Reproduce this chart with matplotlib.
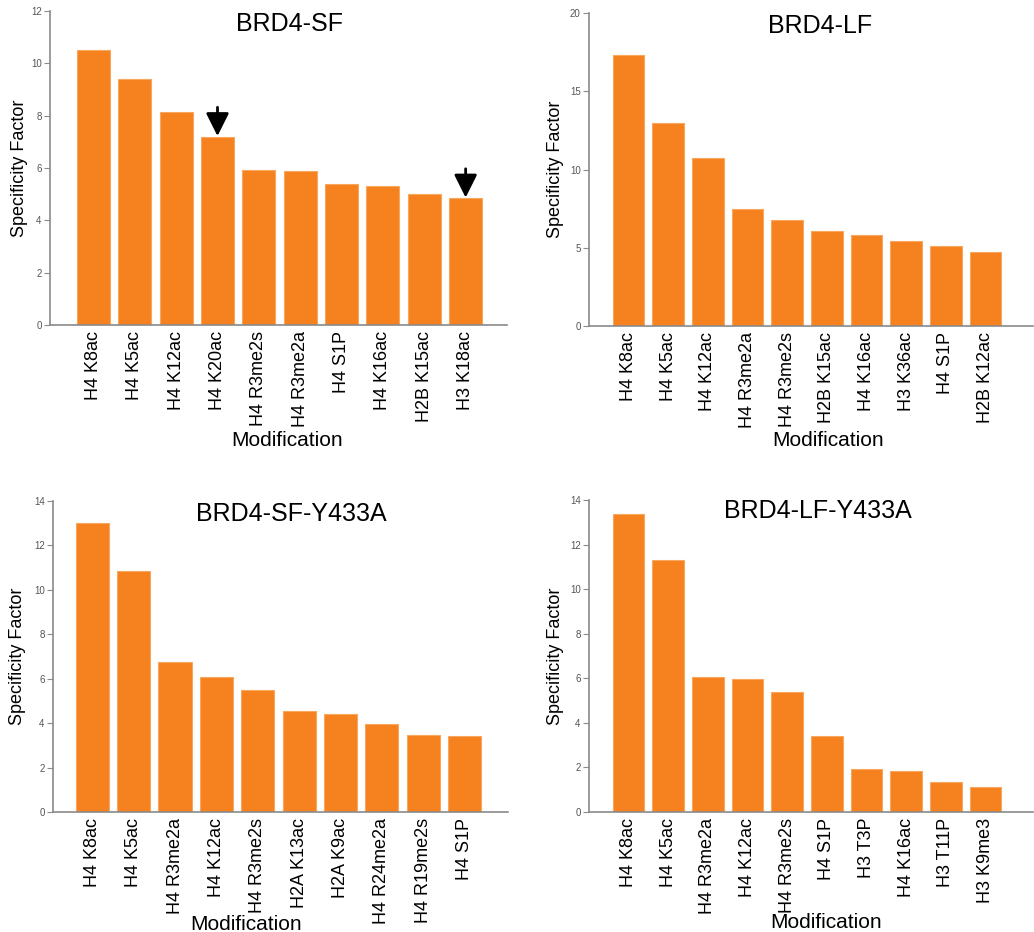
import matplotlib
matplotlib.use("Agg")
import matplotlib.pyplot as plt

plt.rcParams['font.family'] = ['Liberation Sans', 'DejaVu Sans']

# ---- data ----
sf_labels = ["H4 K8ac", "H4 K5ac", "H4 K12ac", "H4 K20ac", "H4 R3me2s",
             "H4 R3me2a", "H4 S1P", "H4 K16ac", "H2B K15ac", "H3 K18ac"]
sf_values = [10.5, 9.42, 8.15, 7.2, 5.93, 5.88, 5.37, 5.33, 5.02, 4.85]

lf_labels = ["H4 K8ac", "H4 K5ac", "H4 K12ac", "H4 R3me2a", "H4 R3me2s",
             "H2B K15ac", "H4 K16ac", "H3 K36ac", "H4 S1P", "H2B K12ac"]
lf_values = [17.3, 13.0, 10.75, 7.5, 6.8, 6.05, 5.82, 5.4, 5.13, 4.75]

sfm_labels = ["H4 K8ac", "H4 K5ac", "H4 R3me2a", "H4 K12ac", "H4 R3me2s",
              "H2A K13ac", "H2A K9ac", "H4 R24me2a", "H4 R19me2s", "H4 S1P"]
sfm_values = [13.0, 10.85, 6.75, 6.08, 5.5, 4.55, 4.4, 3.97, 3.45, 3.42]

lfm_labels = ["H4 K8ac", "H4 K5ac", "H4 R3me2a", "H4 K12ac", "H4 R3me2s",
              "H4 S1P", "H3 T3P", "H4 K16ac", "H3 T11P", "H3 K9me3"]
lfm_values = [13.35, 11.3, 6.07, 5.97, 5.4, 3.43, 1.93, 1.83, 1.35, 1.12]

titles = ["BRD4-SF", "BRD4-LF", "BRD4-SF-Y433A", "BRD4-LF-Y433A"]
ymaxes = [12, 20, 14, 14]
yticks = [[0, 2, 4, 6, 8, 10, 12], [0, 5, 10, 15, 20],
          [0, 2, 4, 6, 8, 10, 12, 14], [0, 2, 4, 6, 8, 10, 12, 14]]
arrow_idx_sf = [3, 9]

W, H = 1034, 932
fig = plt.figure(figsize=(W / 100, H / 100), dpi=100)

# pixel boxes: left, right, top, bottom
boxes = [(50, 507, 11, 325), (589, 1033, 13, 326),
         (53, 508, 501, 812), (589, 1033, 500, 812)]
xlims = [(-1.05, 10.0), (-1.0, 10.2), (-0.95, 10.05), (-1.0, 10.2)]
title_pos = [(0.525, 0.958), (0.52, 0.958), (0.523, 0.958), (0.516, 0.965)]
ylabel_px = [20, 556, 17, 556]
xlabel_py = [441, 440, 924, 923]
xlabel_px = [287, 828, 246, 826]

datasets = [(sf_labels, sf_values), (lf_labels, lf_values),
            (sfm_labels, sfm_values), (lfm_labels, lfm_values)]

bar_color = '#F5821F'
spine_color = '#8a8a8a'

for k, ((labels, vals), (l, r, t, b)) in enumerate(zip(datasets, boxes)):
    ax = fig.add_axes([l / W, 1 - b / H, (r - l) / W, (b - t) / H])
    x = list(range(len(labels)))
    ax.bar(x, vals, width=0.8, color=bar_color, edgecolor='#F9A65E', linewidth=0.8)
    ax.set_xlim(*xlims[k])
    ax.set_ylim(0, ymaxes[k])
    ax.set_yticks(yticks[k])
    ax.set_xticks(x)
    ax.set_xticklabels(labels, rotation=90, fontsize=13)
    ax.tick_params(axis='x', length=0, pad=4)
    ax.tick_params(axis='y', length=4, width=0.8, color=spine_color,
                   labelsize=7, labelcolor='#555555', pad=2)
    for s in ['top', 'right']:
        ax.spines[s].set_visible(False)
    for s in ['left', 'bottom']:
        ax.spines[s].set_color(spine_color)
        ax.spines[s].set_linewidth(1.2)
    ax.text(title_pos[k][0], title_pos[k][1], titles[k], transform=ax.transAxes,
            ha='center', va='center', fontsize=18)
    ax.set_ylabel("Specificity Factor", fontsize=13)
    ax.yaxis.set_label_coords((ylabel_px[k] - l) / (r - l), 0.5)
    ax.yaxis.label.set_va('center')
    ax.set_xlabel("Modification", fontsize=15)
    ax.xaxis.set_label_coords((xlabel_px[k] - l) / (r - l), (b - xlabel_py[k]) / (b - t))
    ax.xaxis.label.set_va('center')
    if k == 0:
        for i in arrow_idx_sf:
            v = vals[i]
            ax.annotate('', xy=(i, v + 0.02), xytext=(i, v + 1.12),
                        arrowprops=dict(arrowstyle='-|>,head_length=1.0,head_width=0.5',
                                        mutation_scale=14, color='black', lw=2,
                                        shrinkA=0, shrinkB=0))

fig.savefig("out.png", dpi=100)
